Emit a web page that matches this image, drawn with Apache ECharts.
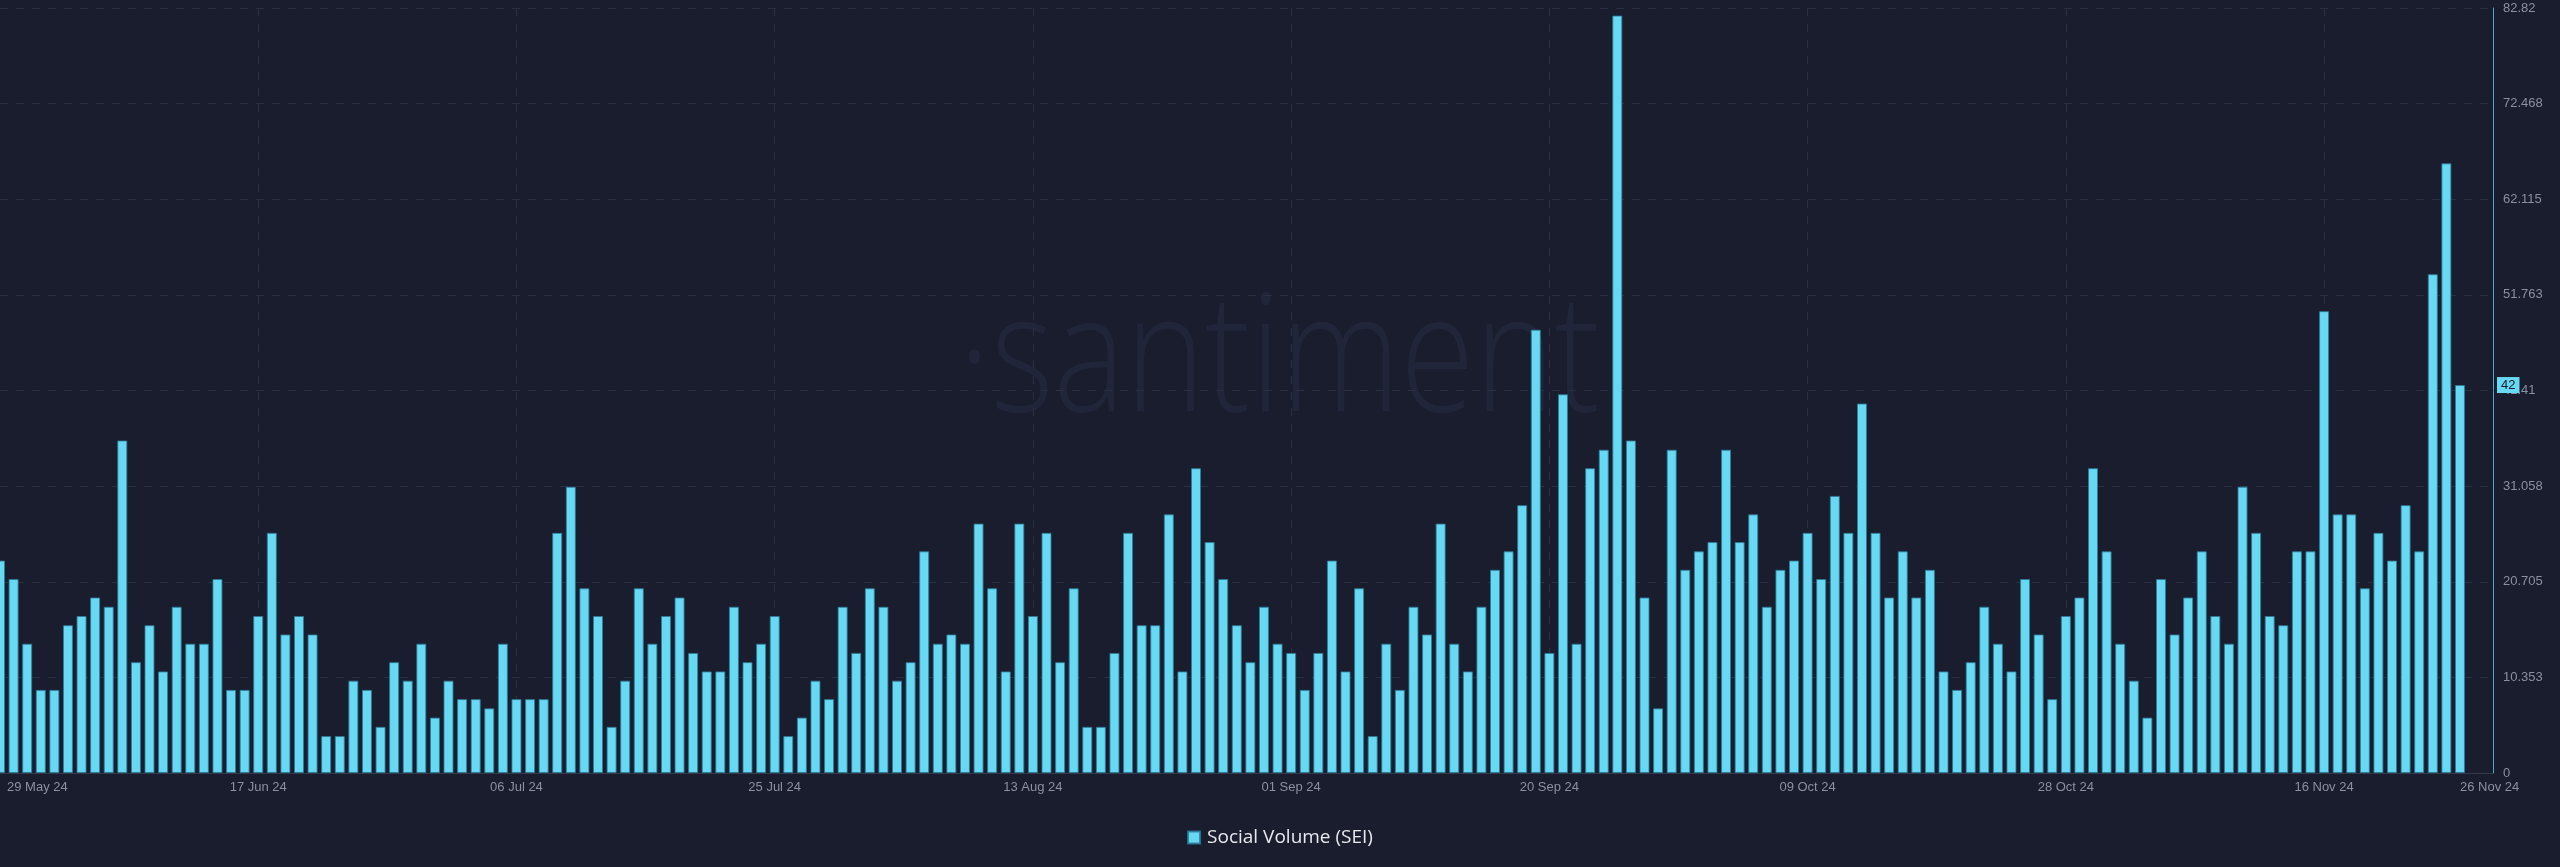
<!DOCTYPE html>
<html>
<head>
<meta charset="utf-8">
<script src="https://cdn.jsdelivr.net/npm/echarts@6/dist/echarts.min.js"></script>
<style>
html,body{margin:0;padding:0;background:#1a1d2d;}
#chart{width:2560px;height:867px;}
</style>
</head>
<body>
<div id="chart"></div>
<script>
// Daily Social Volume (SEI), 29 May 2024 .. 26 Nov 2024
const startDate = '2024-05-29';
const values = [
  23,21,14,9,9,16,17,19,18,36,12,16,11,18,14,14,21,9,9,17,26,15,17,15,4,4,10,9,5,12,10,14,6,
  10,8,8,7,14,8,8,8,26,31,20,17,5,10,20,14,17,19,13,11,11,18,12,14,17,4,6,10,8,18,13,
  20,18,10,12,24,14,15,14,27,20,11,27,17,26,12,20,5,5,13,26,16,16,28,11,33,25,21,16,12,18,14,
  13,9,13,23,11,20,4,14,9,18,15,27,14,11,18,22,24,29,48,13,41,14,33,35,82,36,19,7,35,22,24,25,
  35,25,28,18,22,23,26,21,30,26,40,26,19,24,19,22,11,9,12,18,14,11,21,15,8,17,19,33,24,
  14,10,6,21,15,19,24,17,14,31,26,17,16,24,24,50,28,28,20,26,23,29,24,54,66,42
];
const tickIndices = [0,19,38,57,76,95,114,133,152,171,181];
const seriesName = 'Social Volume (SEI)';
const yMax = 82.82;
const yInterval = 10.3525;

const MONTHS = ['Jan','Feb','Mar','Apr','May','Jun','Jul','Aug','Sep','Oct','Nov','Dec'];
const categories = [];
{
  const d0 = new Date(startDate + 'T00:00:00Z');
  for (let i = 0; i < values.length; i++) {
    const d = new Date(d0.getTime() + i * 86400000);
    const dd = String(d.getUTCDate()).padStart(2, '0');
    categories.push(dd + ' ' + MONTHS[d.getUTCMonth()] + ' ' + String(d.getUTCFullYear()).slice(2));
  }
}

const chart = echarts.init(document.getElementById('chart'), null, {renderer: 'canvas'});
const labelColor = '#8a8fa1';
const gridLineColor = '#2a2f41';

chart.setOption({
  backgroundColor: '#1a1d2d',
  animation: false,
  graphic: [{
    type: 'text',
    x: 1279,
    y: 364,
    z: -5,
    silent: true,
    scaleX: 0.82,
    style: {
      text: '\u00b7santiment',
      font: '300 165px "Open Sans"',
      fill: '#21253a',
      textAlign: 'center',
      textVerticalAlign: 'middle'
    }
  }],
  legend: {
    data: [seriesName],
    left: 'center',
    top: 823,
    icon: 'rect',
    itemWidth: 12,
    itemHeight: 12,
    textStyle: {color: '#e6e8ee', fontSize: 19, fontFamily: 'Open Sans', padding: [0, 0, 0, 2]}
  },
  grid: {left: 0, right: 67, top: 8, bottom: 94, containLabel: false},
  xAxis: {
    type: 'value',
    min: 0,
    max: values.length - 1 + 2.43,
    interval: 19,
    axisLine: {show: true, onZero: false, lineStyle: {color: '#343a4c', width: 1}},
    axisTick: {show: false},
    splitLine: {show: true, showMinLine: false, showMaxLine: false, lineStyle: {color: gridLineColor, type: [8, 8], width: 1}},
    axisLabel: {
      customValues: tickIndices,
      color: labelColor,
      fontSize: 13,
      fontFamily: 'Liberation Sans, Arial, sans-serif',
      margin: 8,
      alignMinLabel: 'left',
      alignMaxLabel: 'left',
      formatter: function (v) {
        const c = categories[Math.round(v)] || '';
        return Math.round(v) === 0 ? '{first|' + c + '}' : c;
      },
      rich: {first: {padding: [0, 0, 0, 7], color: labelColor, fontSize: 13, fontFamily: 'Liberation Sans, Arial, sans-serif'}}
    }
  },
  yAxis: {
    type: 'value',
    position: 'right',
    min: 0,
    max: yMax,
    interval: yInterval,
    axisLine: {show: true, onZero: false, lineStyle: {color: '#4ba9c4', width: 1}},
    axisTick: {show: false},
    splitLine: {show: true, lineStyle: {color: gridLineColor, type: [8, 8], width: 1}},
    axisLabel: {
      color: labelColor,
      fontSize: 13,
      fontFamily: 'Liberation Sans, Arial, sans-serif',
      margin: 10,
      formatter: function (v) { return String(Math.round(v * 1000 + 1e-6) / 1000); }
    }
  },
  series: [{
    name: seriesName,
    type: 'bar',
    data: values.map(function (v, i) { return [i, v]; }),
    barWidth: 10,
    clip: true,
    itemStyle: {color: '#67d9f3', borderColor: 'rgba(45,125,155,0.85)', borderWidth: 1},
    markLine: {
      silent: true,
      symbol: 'none',
      animation: false,
      lineStyle: {color: 'rgba(0,0,0,0)', width: 0},
      data: [{yAxis: values[values.length - 1]}],
      label: {
        show: true,
        position: 'end',
        distance: 4,
        formatter: function (p) { return String(p.value); },
        backgroundColor: '#67d9f3',
        color: '#1a1d2d',
        fontSize: 13,
        fontFamily: 'Liberation Sans, Arial, sans-serif',
        padding: [2, 4, 1, 4]
      }
    }
  }]
});
</script>
</body>
</html>
